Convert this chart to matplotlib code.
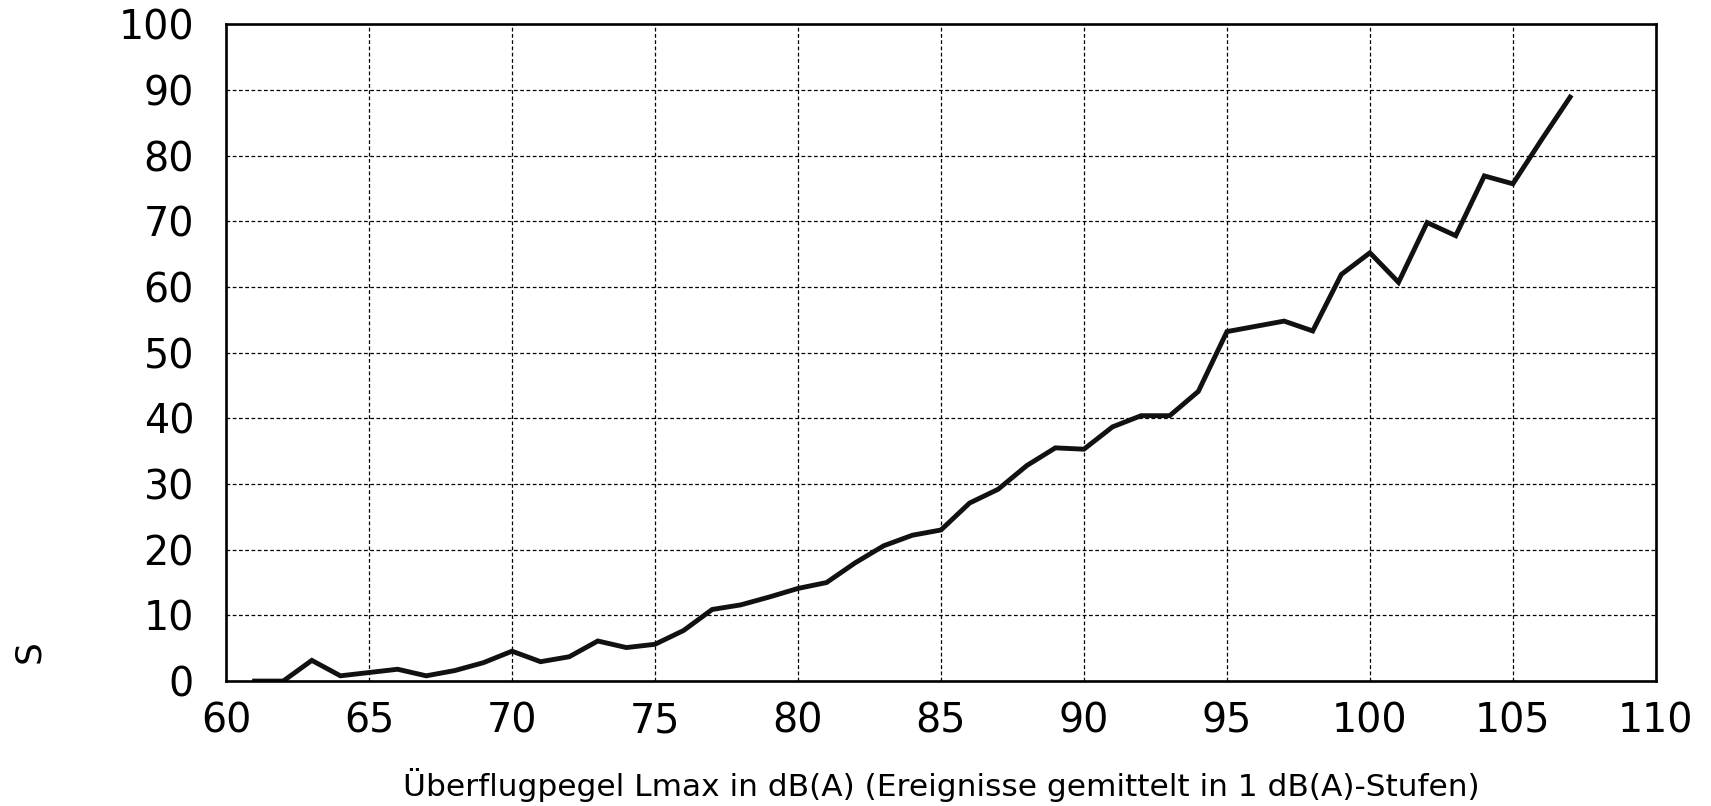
import matplotlib.pyplot as plt

plt.rcParams['font.family'] = ['DejaVu Sans']

# Lmax in 1 dB(A) steps and the averaged value per step
lmax = list(range(61, 108))
s_values = [0.0, 0.0, 3.15, 0.8, 1.3, 1.8, 0.8, 1.6, 2.8, 4.55,
            2.95, 3.7, 6.1, 5.1, 5.6, 7.7, 10.9, 11.6, 12.8, 14.1,
            15.0, 18.0, 20.6, 22.2, 23.0, 27.1, 29.2, 32.8, 35.5, 35.3,
            38.7, 40.4, 40.4, 44.1, 53.2, 54.0, 54.8, 53.3, 61.9, 65.2,
            60.7, 69.8, 67.8, 76.9, 75.7, 82.4, 88.9]

x_ticks = list(range(60, 111, 5))
y_ticks = list(range(0, 101, 10))

fig = plt.figure(figsize=(17.11, 8.06), dpi=100)
ax = fig.add_axes([0.1321, 0.155, 0.8357, 0.815])

ax.plot(lmax, s_values, color='#111111', linewidth=3.5, solid_joinstyle='miter')

ax.set_xlim(60, 110)
ax.set_ylim(0, 100)
ax.set_xticks(x_ticks)
ax.set_yticks(y_ticks)
ax.tick_params(axis='both', length=0, labelsize=28.5)
ax.tick_params(axis='x', pad=15)
ax.tick_params(axis='y', pad=23)

ax.grid(True, color='black', linewidth=0.9, linestyle=(0, (3, 2)))
for sp in ax.spines.values():
    sp.set_linewidth(1.9)
    sp.set_color('black')

ax.set_xlabel('Überflugpegel Lmax in dB(A) (Ereignisse gemittelt in 1 dB(A)-Stufen)',
              fontsize=22.5, va='top')
ax.xaxis.set_label_coords(0.5, -0.132)
ax.set_ylabel('S', fontsize=26, va='center')
ax.yaxis.set_label_coords(-0.138, 0.045)

fig.savefig('out.png', dpi=100)
